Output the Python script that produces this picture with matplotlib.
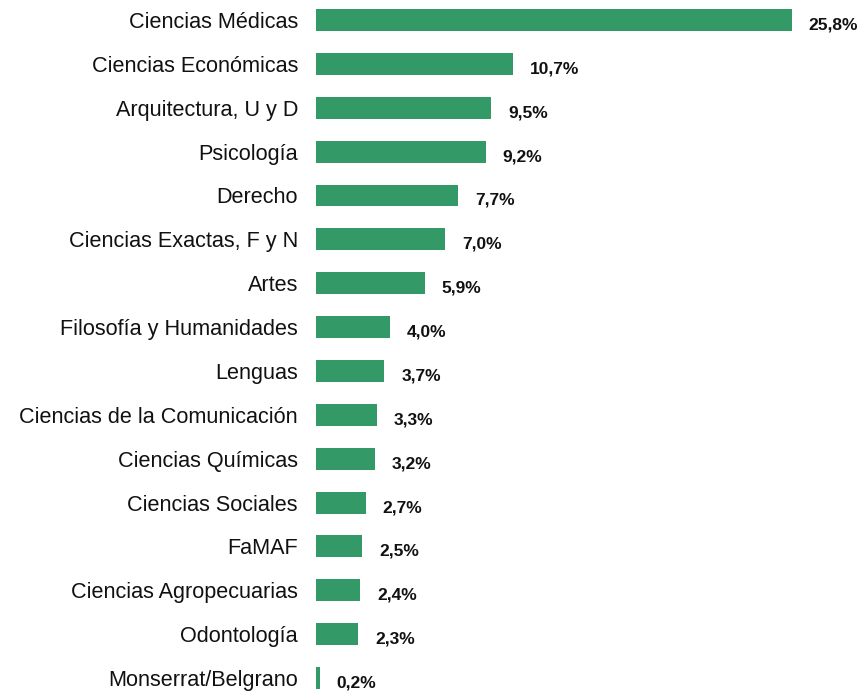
import matplotlib
matplotlib.use("Agg")
import matplotlib.pyplot as plt

plt.rcParams['font.family'] = ['Liberation Sans', 'DejaVu Sans']

# Facultades y porcentaje
facultades = [
    "Ciencias Médicas", "Ciencias Económicas", "Arquitectura, U y D", "Psicología",
    "Derecho", "Ciencias Exactas, F y N", "Artes", "Filosofía y Humanidades",
    "Lenguas", "Ciencias de la Comunicación", "Ciencias Químicas", "Ciencias Sociales",
    "FaMAF", "Ciencias Agropecuarias", "Odontología", "Monserrat/Belgrano",
]
porcentajes = [25.8, 10.7, 9.5, 9.2, 7.7, 7.0, 5.9, 4.0, 3.7, 3.3, 3.2, 2.7, 2.5, 2.4, 2.3, 0.2]
etiquetas = [f"{v:.1f}%".replace(".", ",") for v in porcentajes]

fig = plt.figure(figsize=(8.67, 6.96), dpi=100)
ax = fig.add_axes([316 / 867, 0, 1 - 316 / 867 - 0.008, 1])

pos = list(range(len(facultades)))
ax.barh(pos, porcentajes, height=0.5, color="#339966")

for y, v, t in zip(pos, porcentajes, etiquetas):
    ax.annotate(t, (v, y), xytext=(17, -5), textcoords="offset pixels",
                ha="left", va="center", fontsize=12.5, fontweight="bold", color="#111111")

ax.set_yticks(pos)
ax.set_yticklabels(facultades, fontsize=15.6, color="#111111")
ax.tick_params(axis="y", length=0, pad=13)
ax.set_xticks([])
ax.set_xlim(0, 29.5)
ax.set_ylim(15.41, -0.456)
for s in ax.spines.values():
    s.set_visible(False)

fig.savefig("out.png", dpi=100)
